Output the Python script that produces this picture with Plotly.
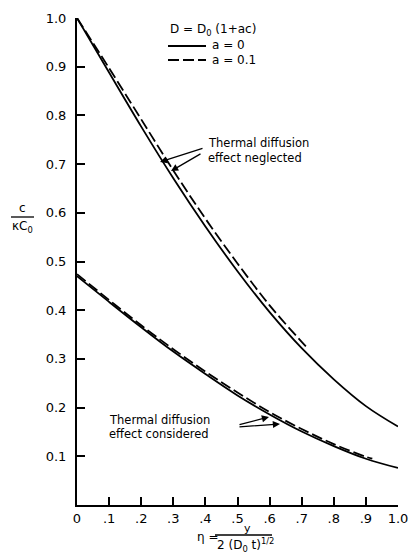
import plotly.graph_objects as go

# ---- data ----
eta = [0.0, 0.1, 0.2, 0.3, 0.4, 0.5, 0.6, 0.7, 0.8, 0.9, 1.0]
neglected_a0 = [1.000, 0.888, 0.777, 0.671, 0.572, 0.480, 0.396, 0.322, 0.258, 0.203, 0.161]
eta_neglected_a01 = [0.0, 0.1, 0.2, 0.3, 0.4, 0.5, 0.6, 0.7, 0.72]
neglected_a01 = [1.000, 0.897, 0.792, 0.687, 0.588, 0.496, 0.410, 0.335, 0.321]
considered_a0 = [0.470, 0.417, 0.365, 0.315, 0.269, 0.225, 0.186, 0.151, 0.121, 0.095, 0.076]
eta_considered_a01 = [0.0, 0.1, 0.2, 0.3, 0.4, 0.5, 0.6, 0.7, 0.8, 0.9, 0.92]
considered_a01 = [0.474, 0.421, 0.369, 0.320, 0.274, 0.231, 0.191, 0.156, 0.125, 0.099, 0.095]

x_tickvals = [0, 0.1, 0.2, 0.3, 0.4, 0.5, 0.6, 0.7, 0.8, 0.9, 1.0]
x_ticktext = ["0", ".1", ".2", ".3", ".4", ".5", ".6", ".7", ".8", ".9", "1.0"]
y_tickvals = [0.1, 0.2, 0.3, 0.4, 0.5, 0.6, 0.7, 0.8, 0.9, 1.0]
y_ticktext = ["0.1", "0.2", "0.3", "0.4", "0.5", "0.6", "0.7", "0.8", "0.9", "1.0"]

FONT = "DejaVu Sans"
W, H = 411, 557
L, R, T, B = 77, 13, 18, 52
PW, PH = W - L - R, H - T - B


def px(xp):
    return (xp - L) / PW


def py(yp):
    return (H - B - yp) / PH


fig = go.Figure()
solid = dict(color="black", width=1.8, shape="spline")
dashed = dict(color="black", width=1.8, dash="11px,4px", shape="spline")
fig.add_trace(go.Scatter(x=eta, y=neglected_a0, mode="lines", line=solid, name="a = 0"))
fig.add_trace(go.Scatter(x=eta_neglected_a01, y=neglected_a01, mode="lines", line=dashed, name="a = 0.1"))
fig.add_trace(go.Scatter(x=eta, y=considered_a0, mode="lines", line=solid, name="a = 0"))
fig.add_trace(go.Scatter(x=eta_considered_a01, y=considered_a01, mode="lines", line=dashed, name="a = 0.1"))

annotations = []
shapes = []

def text(xp, yp, s, size=12, xanchor="left"):
    annotations.append(dict(x=px(xp), y=py(yp), xref="paper", yref="paper", text=s,
                            showarrow=False, xanchor=xanchor, yanchor="middle",
                            font=dict(family=FONT, size=size, color="black")))

# legend block
text(168, 30, "D = D<sub>0</sub> (1+ac)")
shapes.append(dict(type="line", xref="paper", yref="paper", x0=px(168), x1=px(206), y0=py(46), y1=py(46),
                   line=dict(color="black", width=1.8)))
shapes.append(dict(type="line", xref="paper", yref="paper", x0=px(168), x1=px(206), y0=py(60), y1=py(60),
                   line=dict(color="black", width=1.8, dash="11px,4px")))
text(210, 45, "a = 0")
text(210, 60, "a = 0.1")

# curve labels
text(206, 143, "Thermal diffusion", size=11.5)
text(206, 158, "effect neglected", size=11.5)
text(107, 420, "Thermal diffusion", size=11.5)
text(107, 434, "effect considered", size=11.5)

def arrow(tail, tip):
    annotations.append(dict(x=px(tip[0]), y=py(tip[1]), ax=px(tail[0]), ay=py(tail[1]),
                            xref="x domain", yref="y domain", axref="x domain", ayref="y domain",
                            text="", showarrow=True, arrowhead=2, arrowsize=1.1, arrowwidth=1.3,
                            arrowcolor="black"))

arrow((204, 148), (160, 162))
arrow((202, 153), (171, 171))
arrow((238, 425), (269, 417))
arrow((238, 427), (280, 424))

# y-axis title fraction
text(22, 208, "c", size=12, xanchor="center")
shapes.append(dict(type="line", xref="paper", yref="paper", x0=px(11), x1=px(34), y0=py(217), y1=py(217),
                   line=dict(color="black", width=1.3)))
text(22, 227, "κC<sub>0</sub>", size=12, xanchor="center")

# x-axis title fraction
text(195, 537, "η =", size=12)
text(248, 528, "y", size=11, xanchor="center")
shapes.append(dict(type="line", xref="paper", yref="paper", x0=px(215), x1=px(272), y0=py(535), y1=py(535),
                   line=dict(color="black", width=1.3)))
text(215, 545, "2 (D<sub>0</sub> t)<sup>1/2</sup>", size=12)

fig.update_layout(
    width=W, height=H,
    margin=dict(l=L, r=R, t=T, b=B, autoexpand=False),
    paper_bgcolor="white", plot_bgcolor="white",
    showlegend=False,
    font=dict(family=FONT, size=12, color="black"),
    annotations=annotations,
    shapes=shapes,
)
fig.update_xaxes(range=[0, 1.0], tickvals=x_tickvals, ticktext=x_ticktext, ticks="inside", ticklen=8,
                 tickwidth=1.5, tickcolor="black", showline=True, linecolor="black", linewidth=2,
                 showgrid=False, zeroline=False, tickfont=dict(family=FONT, size=13), automargin=False)
fig.update_yaxes(range=[0, 1.0], tickvals=y_tickvals, ticktext=y_ticktext, ticks="inside", ticklen=8,
                 tickwidth=1.5, tickcolor="black", showline=True, linecolor="black", linewidth=2,
                 showgrid=False, zeroline=False, tickfont=dict(family=FONT, size=13), ticklabelstandoff=6,
                 automargin=False)

fig.write_html("out.html", config={"displayModeBar": False},
               post_script="document.body.style.margin='0px';document.body.style.overflow='hidden';")
